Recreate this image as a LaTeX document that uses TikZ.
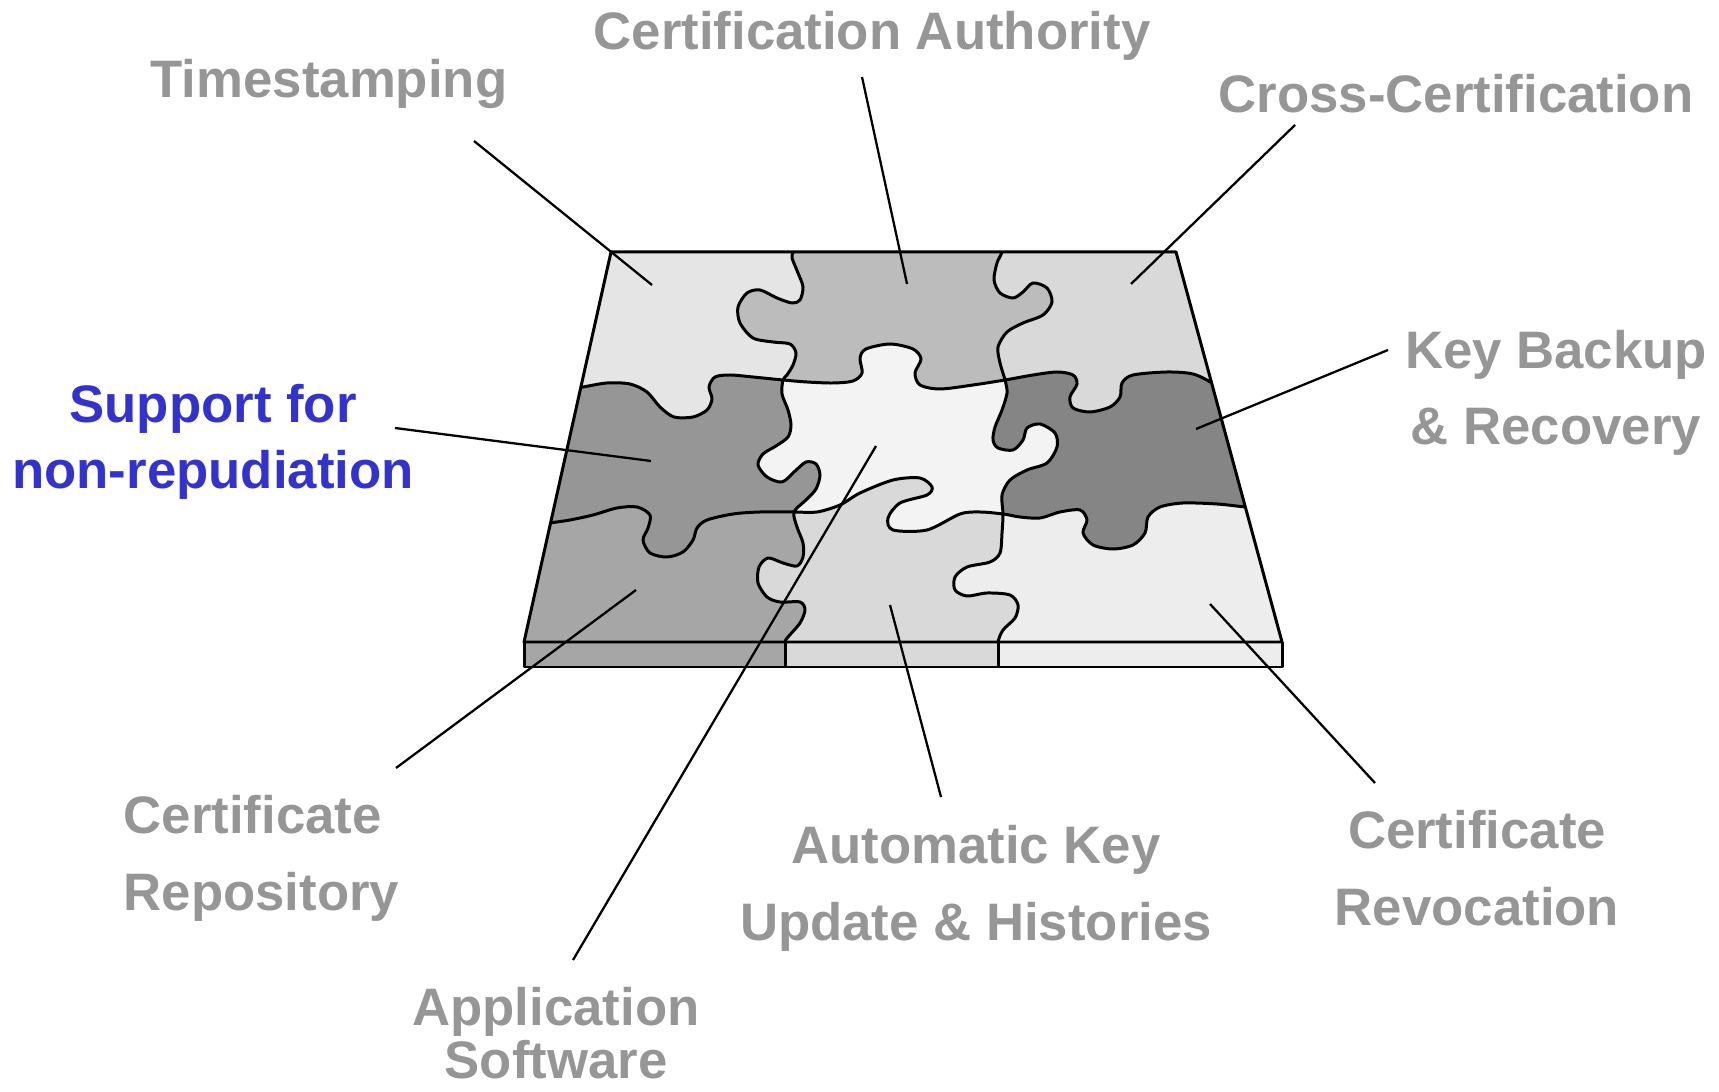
\documentclass[tikz,border=0pt]{standalone}
\usepackage{fontspec}
\setmainfont{Liberation Sans}
\definecolor{lblgray}{HTML}{969696}
\definecolor{lblblue}{HTML}{3333CC}
\definecolor{rAcA}{HTML}{E5E5E5}
\definecolor{rAcB}{HTML}{BCBCBC}
\definecolor{rAcC}{HTML}{D9D9D9}
\definecolor{rBcA}{HTML}{969696}
\definecolor{rBcB}{HTML}{F3F3F3}
\definecolor{rBcC}{HTML}{858585}
\definecolor{rCcA}{HTML}{A6A6A6}
\definecolor{rCcB}{HTML}{D9D9D9}
\definecolor{rCcC}{HTML}{EDEDED}
\def\seamRowA{plot[smooth] coordinates {(570,389) (583,387) (607,383) (630,384) (647,392) (660,407) (674,417) (693,417) (707,410) (712,399) (709,387) (715,377) (730,375) (753,377) (783,380) (807,382) (833,383) (853,381) (862,373) (860,358) (866,349) (890,344) (913,349) (921,359) (915,373) (920,385) (940,389) (973,385) (1005,380) (1033,375) (1057,372) (1073,375) (1077,384) (1070,397) (1073,408) (1090,412) (1110,407) (1120,397) (1122,383) (1133,375) (1167,372) (1193,374) (1212,383) (1222,391)}}
\def\seamRowB{plot[smooth] coordinates {(540,525) (550,523) (570,520) (593,515) (617,508) (637,507) (650,515) (648,528) (643,540) (650,553) (667,557) (683,552) (693,540) (697,528) (707,520) (733,514) (760,512) (794,512) (817,512) (840,505) (860,493) (893,480) (920,478) (932,487) (927,495) (900,503) (888,518) (893,530) (927,530) (960,514) (980,512) (1003,514) (1020,517) (1040,518) (1060,512) (1080,510) (1087,520) (1083,533) (1093,545) (1113,549) (1133,545) (1145,533) (1148,517) (1160,507) (1183,503) (1217,504) (1245,507) (1256,508)}}
\def\seamColA{plot[smooth] coordinates {(793,240) (793,252) (792,258) (798,273) (803,287) (800,300) (792,303) (777,298) (760,290) (747,293) (738,307) (740,323) (753,338) (773,342) (790,344) (796,353) (793,365) (787,375) (783,380) (782,394) (788,410) (791,425) (788,437) (776,446) (763,454) (758,465) (767,477) (782,482) (794,472) (806,462) (816,464) (820,475) (816,489) (806,500) (794,512) (797,527) (803,543) (803,557) (797,566) (783,563) (768,558) (759,567) (758,583) (767,597) (780,602) (800,602) (805,610) (800,623) (788,637) (785,642) (785,655)}}
\def\seamColB{plot[smooth] coordinates {(1003,240) (1002,252) (997,263) (994,280) (1000,293) (1013,298) (1023,292) (1033,283) (1047,288) (1052,302) (1043,315) (1023,323) (1007,332) (998,347) (1000,363) (1005,380) (1007,393) (1002,410) (995,427) (993,440) (998,448) (1013,450) (1023,440) (1027,428) (1040,424) (1055,433) (1057,447) (1047,463) (1027,470) (1010,480) (1002,495) (1003,514) (1002,533) (1000,553) (990,562) (967,567) (955,577) (955,590) (967,596) (987,593) (1010,595) (1018,605) (1015,618) (1003,630) (998,642) (998,655)}}
\def\seamColC{(1320,240) -- (1320,655)}
\begin{document}
\begin{tikzpicture}[x=0.01cm,y=-0.01cm,
  seam/.style={line width=0.85pt,line join=round},
  leader/.style={line width=0.65pt},
  lbl/.style={text=lblgray,font=\bfseries\fontsize{15}{21.8}\selectfont,align=center,anchor=base,inner sep=0pt}]
\useasboundingbox (0,0) rectangle (1719,1092);
\coordinate (tl) at (611,252);
\coordinate (tr) at (1176,252);
\coordinate (br) at (1282,642);
\coordinate (bl) at (524,642);
\coordinate (sbl) at (524,667);
\coordinate (sbr) at (1282,667);
\begin{scope}
\clip (tl) -- (tr) -- (br) -- (bl) -- cycle;
\foreach \vs/\ca/\cb/\cc in {\seamColC/rAcC/rBcC/rCcC,\seamColB/rAcB/rBcB/rCcB,\seamColA/rAcA/rBcA/rCcA}
{
\begin{scope}
\clip \vs -- (480,700) -- (480,200) -- cycle;
\fill[\cc] (480,200) rectangle (1320,700);
\fill[\cb] \seamRowB -- (1320,200) -- (480,200) -- cycle;
\fill[\ca] \seamRowA -- (1320,200) -- (480,200) -- cycle;
\end{scope}
}
\draw[seam] \seamRowA;
\draw[seam] \seamRowB;
\draw[seam] \seamColA;
\draw[seam] \seamColB;
\end{scope}
\fill[rCcA] (bl) rectangle (785,667);
\fill[rCcB] (785,642) rectangle (998,667);
\fill[rCcC] (998,642) rectangle (sbr);
\draw[seam] (tl) -- (tr) -- (br) -- (bl) -- cycle;
\draw[seam] (bl) -- (sbl) -- (sbr) -- (br);
\foreach \x in {785,998}
\draw[seam] (\x,642) -- (\x,667);

\node[lbl] (tTime) at (329,98) {Timestamping};
\node[lbl] (tCA) at (872,50) {Certification Authority};
\node[lbl] (tCross) at (1456,113) {Cross-Certification};
\node[lbl] (tKey) at (1556,445) {Key Backup\\\& Recovery};
\node[lbl,text=lblblue,font=\bfseries\fontsize{15}{19}\selectfont] (tSupp) at (213,489) {Support for\\non-repudiation};
\node[lbl,align=left,anchor=base west] (tRepo) at (123,910) {Certificate\\Repository};
\node[lbl] (tUpd) at (976,940) {Automatic Key\\Update \& Histories};
\node[lbl] (tRev) at (1477,925) {Certificate\\Revocation};
\node[lbl,font=\bfseries\fontsize{15}{15}\selectfont] (tApp) at (556,1078) {Application\\Software};

\coordinate (eTime) at (474,141);
\coordinate (pTime) at (652,285);
\coordinate (eCA) at (862,77);
\coordinate (pCA) at (907,284);
\coordinate (eCross) at (1295,125);
\coordinate (pCross) at (1131,284);
\coordinate (eKey) at (1388,350);
\coordinate (pKey) at (1196,429);
\coordinate (eSupp) at (395,428);
\coordinate (pSupp) at (651,461);
\coordinate (eApp) at (573,960);
\coordinate (pApp) at (876,446);
\coordinate (eRepo) at (396,768);
\coordinate (pRepo) at (636,590);
\coordinate (eUpd) at (941,797);
\coordinate (pUpd) at (890,605);
\coordinate (eRev) at (1375,783);
\coordinate (pRev) at (1210,604);
\foreach \t in {Time,CA,Cross,Key,Supp,App,Repo,Upd,Rev}
\draw[leader] (e\t) -- (p\t);
\end{tikzpicture}
\end{document}
